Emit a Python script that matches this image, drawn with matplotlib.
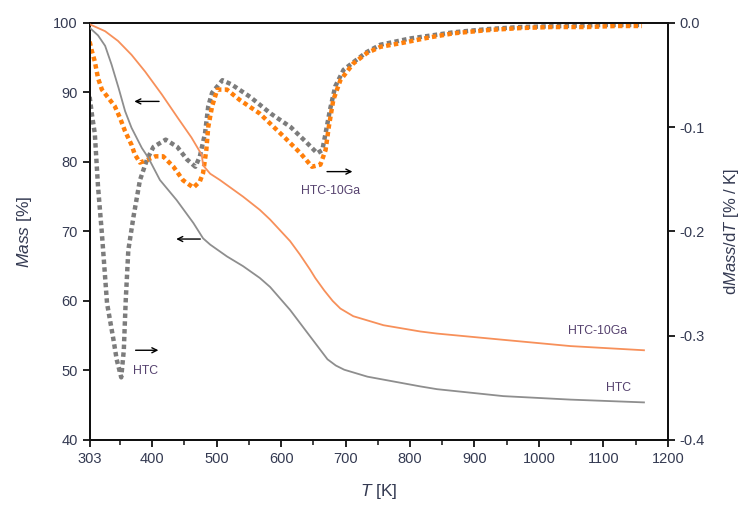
import matplotlib
matplotlib.use("Agg")
import matplotlib.pyplot as plt

plt.rcParams['font.family'] = ['Liberation Sans', 'DejaVu Sans']
plt.rcParams['mathtext.fontset'] = 'custom'
plt.rcParams['mathtext.rm'] = 'Liberation Sans'
plt.rcParams['mathtext.it'] = 'Liberation Sans:italic'

# --- TG curves (left axis, mass %) ---
T_mass_htc10 = [303, 327, 347, 368, 389, 415, 440, 461, 477, 479, 490, 505, 541, 567, 583,
                598, 614, 629, 645, 653, 667, 680, 692, 712, 759, 816, 842, 945, 1049, 1163]
mass_htc10 = [99.8, 98.8, 97.4, 95.4, 93.0, 89.7, 86.3, 83.5, 81.0, 79.5, 78.3, 77.4, 75.0,
              73.1, 71.7, 70.2, 68.6, 66.7, 64.5, 63.3, 61.5, 60.0, 58.9, 57.8, 56.5, 55.6,
              55.3, 54.4, 53.5, 52.9]

T_mass_htc = [303, 316, 327, 337, 348, 358, 368, 384, 394, 412, 438, 464, 479, 490, 516,
              541, 567, 583, 614, 645, 672, 685, 698, 734, 816, 842, 945, 1049, 1163]
mass_htc = [99.3, 98.2, 96.7, 94.0, 90.6, 87.3, 84.9, 82.0, 80.6, 77.4, 74.5, 71.2, 69.0,
            68.1, 66.4, 65.0, 63.3, 62.0, 58.7, 54.9, 51.6, 50.7, 50.1, 49.1, 47.7, 47.3,
            46.3, 45.8, 45.4]

# --- DTG curves (right axis, %/K) ---
T_dtg_htc10 = [303, 306, 311, 316, 322, 332, 342, 350, 358, 368, 373, 381, 394, 405, 417,
               433, 448, 464, 474, 479, 484, 487, 493, 501, 516, 536, 567, 604, 630, 648,
               661, 669, 674, 681, 692, 712, 733, 754, 790, 830, 868, 920, 971, 1020, 1075,
               1120, 1160]
dtg_htc10 = [-0.018, -0.026, -0.037, -0.053, -0.064, -0.072, -0.080, -0.091, -0.104, -0.117,
             -0.126, -0.134, -0.131, -0.128, -0.128, -0.138, -0.151, -0.158, -0.152, -0.144,
             -0.122, -0.100, -0.080, -0.064, -0.064, -0.074, -0.087, -0.109, -0.125, -0.138,
             -0.136, -0.122, -0.100, -0.074, -0.055, -0.039, -0.029, -0.023, -0.019, -0.014,
             -0.010, -0.007, -0.005, -0.004, -0.004, -0.003, -0.003]

T_dtg_htc = [303, 307, 311, 316, 322, 330, 340, 345, 352, 356, 359, 363, 371, 381, 392,
             402, 421, 439, 454, 467, 474, 482, 487, 493, 509, 523, 552, 584, 615, 640,
             656, 664, 669, 676, 684, 697, 718, 733, 754, 800, 868, 920, 971, 1040, 1100, 1160]
dtg_htc = [-0.071, -0.090, -0.106, -0.157, -0.202, -0.269, -0.304, -0.323, -0.340, -0.314,
           -0.266, -0.218, -0.186, -0.151, -0.131, -0.119, -0.112, -0.119, -0.131, -0.138,
           -0.128, -0.106, -0.080, -0.067, -0.055, -0.059, -0.071, -0.087, -0.100, -0.115,
           -0.125, -0.122, -0.106, -0.083, -0.061, -0.045, -0.035, -0.028, -0.021, -0.015,
           -0.009, -0.006, -0.004, -0.003, -0.002, -0.002]

x_ticks = [303, 400, 500, 600, 700, 800, 900, 1000, 1100, 1200]
x_minor = [350, 450, 550, 650, 750, 850, 950, 1050, 1150]
mass_ticks = [40, 50, 60, 70, 80, 90, 100]
dtg_ticks = [0.0, -0.1, -0.2, -0.3, -0.4]

c_orange_line = '#f7905a'
c_gray_line = '#8e8e8e'
c_orange_dot = '#ff7f0a'
c_gray_dot = '#7c7c7c'
c_text = '#343a52'
c_label = '#55416e'

fig = plt.figure(figsize=(7.47, 5.08), dpi=100)
ax = fig.add_axes([0.12, 0.134, 0.774, 0.821])
ax2 = ax.twinx()

dot_style = dict(linestyle=(0, (1.0, 0.75)), lw=3.2, dash_capstyle='butt')
ax2.plot(T_dtg_htc, dtg_htc, color=c_gray_dot, **dot_style, zorder=2)
ax2.plot(T_dtg_htc10, dtg_htc10, color=c_orange_dot, **dot_style, zorder=3)

ax.plot(T_mass_htc10, mass_htc10, color=c_orange_line, lw=1.3, zorder=4)
ax.plot(T_mass_htc, mass_htc, color=c_gray_line, lw=1.3, zorder=4)
ax.set_zorder(ax2.get_zorder() + 1)
ax.patch.set_visible(False)

ax.set_xlim(303, 1200)
ax.set_ylim(40, 100)
ax2.set_ylim(-0.4, 0.0)

ax.set_xticks(x_ticks)
ax.set_xticks(x_minor, minor=True)
ax.set_yticks(mass_ticks)
ax2.set_yticks(dtg_ticks)
ax2.set_yticklabels([f"{v:.1f}" for v in dtg_ticks])

for a in (ax, ax2):
    for s in a.spines.values():
        s.set_linewidth(1.4)
        s.set_color('#111111')
    a.tick_params(which='major', direction='out', length=5, width=1.3,
                  labelsize=10.5, labelcolor=c_text, color='#111111')
    a.tick_params(which='minor', direction='out', length=3.5, width=1.1, color='#111111')

ax.set_xlabel(r'$\mathit{T}$ [K]', fontsize=12.5, color=c_text, labelpad=12)
ax.set_ylabel(r'$\mathit{Mass}$ [%]', fontsize=12.5, color=c_text, labelpad=14)
ax2.set_ylabel(r'd$\mathit{Mass}$/d$\mathit{T}$ [% / K]', fontsize=12, color=c_text,
               labelpad=12)

# arrows point to the axis each curve belongs to
arrow = dict(arrowstyle='->', color='black', lw=1.0, mutation_scale=9)
ax.annotate('', xy=(368, 88.7), xytext=(415, 88.7), arrowprops=arrow)
ax.annotate('', xy=(433, 68.9), xytext=(479, 68.9), arrowprops=arrow)
ax.annotate('', xy=(414, 52.9), xytext=(370, 52.9), arrowprops=arrow)
ax.annotate('', xy=(715, 78.6), xytext=(667, 78.6), arrowprops=arrow)

lab = dict(fontsize=8.8, color=c_label)
ax.text(370, 49.9, 'HTC', ha='left', va='center', **lab)
ax.text(631, 75.8, 'HTC-10Ga', ha='left', va='center', **lab)
ax.text(1137, 55.6, 'HTC-10Ga', ha='right', va='center', **lab)
ax.text(1143, 47.4, 'HTC', ha='right', va='center', **lab)

fig.savefig('out.png', dpi=100)
